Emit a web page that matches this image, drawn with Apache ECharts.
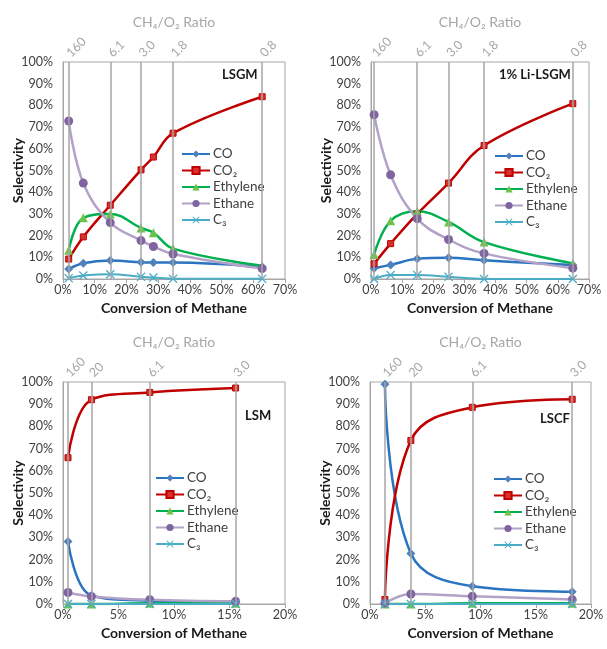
<!DOCTYPE html>
<html>
<head>
<meta charset="utf-8">
<script src="https://cdn.jsdelivr.net/npm/echarts@6/dist/echarts.min.js"></script>
<style>
  html, body { margin: 0; padding: 0; background: #fff; }
  #chart { width: 607px; height: 649px; }
</style>
</head>
<body>
<div id="chart"></div>
<script>
// ── Data (selectivity %, conversion %) ───────────────────────────────────────
const seriesNames = ['CO', 'CO₂', 'Ethylene', 'Ethane', 'C₃']

// LSGM
const lsgmX = [1.8, 6.4, 14.9, 24.6, 28.5, 34.7, 62.8]
const lsgmCO = [4.6, 7.3, 8.5, 7.7, 7.6, 7.6, 5.5]
const lsgmCO2 = [9.2, 19.4, 34.0, 50.3, 56.2, 67.2, 84.0]
const lsgmEthylene = [13.2, 28.2, 30.0, 23.5, 21.3, 14.0, 6.1]
const lsgmEthane = [72.8, 44.2, 26.0, 17.7, 15.0, 11.5, 4.8]
const lsgmC3 = [0.4, 1.6, 2.2, 1.0, 0.7, 0.1, 0.1]
const lsgmRatioX = [1.8, 14.9, 24.6, 34.7, 62.8]
const lsgmRatio = ['160', '6.1', '3.0', '1.8', '0.8']

// 1% Li-LSGM
const liX = [1.0, 6.3, 14.85, 24.9, 36.3, 64.8]
const liCO = [5.0, 6.5, 9.3, 9.8, 8.6, 6.5]
const liCO2 = [7.0, 16.3, 30.0, 44.2, 61.5, 80.8]
const liEthylene = [11.3, 26.8, 31.2, 26.3, 17.0, 7.2]
const liEthane = [75.7, 48.0, 27.8, 18.2, 11.8, 5.0]
const liC3 = [0.0, 1.8, 1.8, 1.0, 0.0, 0.0]
const liRatioX = [1.0, 14.85, 24.9, 36.3, 64.8]
const liRatio = ['160', '6.1', '3.0', '1.8', '0.8']

// LSM
const lsmX = [0.45, 2.56, 7.82, 15.55]
const lsmCO = [28.1, 3.8, 1.5, 1.0]
const lsmCO2 = [65.9, 92.0, 95.3, 97.3]
const lsmEthylene = [0.0, 0.0, 0.3, 0.3]
const lsmEthane = [5.2, 3.4, 1.9, 1.2]
const lsmC3 = [0.0, 0.0, 0.0, 0.0]
const lsmRatioX = [0.45, 2.56, 7.82, 15.55]
const lsmRatio = ['160', '20', '6.1', '3.0']

// LSCF
const lscfX = [1.35, 3.7, 9.26, 18.3]
const lscfCO = [99.0, 22.7, 8.0, 5.5]
const lscfCO2 = [2.0, 73.7, 88.6, 92.2]
const lscfEthylene = [0.0, 0.0, 0.3, 0.3]
const lscfEthane = [0.4, 4.5, 3.5, 2.0]
const lscfC3 = [0.0, 0.0, 0.0, 0.0]
const lscfRatioX = [1.35, 3.7, 9.26, 18.3]
const lscfRatio = ['160', '20', '6.1', '3.0']

// ── Layout / styles ──────────────────────────────────────────────────────────
const panels = [
  { label: 'LSGM', x: lsgmX, ys: [lsgmCO, lsgmCO2, lsgmEthylene, lsgmEthane, lsgmC3],
    ratioX: lsgmRatioX, ratio: lsgmRatio, xMax: 70, xInt: 10,
    grid: { left: 63, top: 62, width: 222, height: 217 },
    legend: { left: 181, top: 147 }, tag: { left: 222, top: 68 } },
  { label: '1% Li-LSGM', x: liX, ys: [liCO, liCO2, liEthylene, liEthane, liC3],
    ratioX: liRatioX, ratio: liRatio, xMax: 70, xInt: 10,
    grid: { left: 371, top: 62, width: 218, height: 217 },
    legend: { left: 494, top: 149 }, tag: { left: 499, top: 68 } },
  { label: 'LSM', x: lsmX, ys: [lsmCO, lsmCO2, lsmEthylene, lsmEthane, lsmC3],
    ratioX: lsmRatioX, ratio: lsmRatio, xMax: 20, xInt: 5,
    grid: { left: 63, top: 382, width: 222, height: 222 },
    legend: { left: 155, top: 471 }, tag: { left: 245, top: 409 } },
  { label: 'LSCF', x: lscfX, ys: [lscfCO, lscfCO2, lscfEthylene, lscfEthane, lscfC3],
    ratioX: lscfRatioX, ratio: lscfRatio, xMax: 20, xInt: 5,
    grid: { left: 370, top: 382, width: 221, height: 222 },
    legend: { left: 493, top: 472 }, tag: { left: 540, top: 412 } },
]

const xMark = 'path://M0,1L1,0L5,4L9,0L10,1L6,5L10,9L9,10L5,6L1,10L0,9L4,5Z'
const styles = [
  { line: '#2a74c0', fill: '#4f81bd', symbol: 'diamond', size: 9 },
  { line: '#c00000', fill: '#d8322c', symbol: 'rect', size: 6 },
  { line: '#00b050', fill: '#6cc24a', symbol: 'triangle', size: 9 },
  { line: '#b3a2c7', fill: '#8064a2', symbol: 'circle', size: 9 },
  { line: '#4bacc6', fill: '#4bacc6', symbol: xMark, size: 9 },
]

const gray = '#a6a6a6'
const textDark = '#404040'
const font = 'Lato, "Open Sans", sans-serif'

const grids = [], xAxes = [], yAxes = [], series = [], legends = [], titles = []

panels.forEach((p, i) => {
  grids.push({ ...p.grid, show: true, borderColor: gray, borderWidth: 1 })

  xAxes.push({
    type: 'value', gridIndex: i, position: 'bottom', min: 0, max: p.xMax, interval: p.xInt,
    axisLine: { show: true, lineStyle: { color: gray } },
    axisTick: { show: true, length: 4, lineStyle: { color: gray } },
    splitLine: { show: false },
    axisLabel: { formatter: '{value}%', color: textDark, fontSize: 12.5, margin: 4 },
    name: 'Conversion of Methane', nameLocation: 'middle', nameGap: 22, nameMoveOverlap: false,
    nameTextStyle: { fontWeight: 'bold', fontSize: 14, color: '#1a1a1a' },
  })
  // top axis only carries the "CH4/O2 Ratio" title
  xAxes.push({
    type: 'value', gridIndex: i, position: 'top', min: 0, max: p.xMax,
    axisLine: { show: false }, axisTick: { show: false }, splitLine: { show: false },
    axisLabel: { show: false },
    name: 'CH₄/O₂ Ratio', nameLocation: 'middle', nameGap: 33, nameMoveOverlap: false,
    nameTextStyle: { color: gray, fontSize: 14 },
  })
  yAxes.push({
    type: 'value', gridIndex: i, min: 0, max: 100, interval: 10,
    axisLine: { show: true, lineStyle: { color: gray } },
    axisTick: { show: false }, splitLine: { show: false },
    axisLabel: { formatter: '{value}%', color: textDark, fontSize: 12.5, margin: 10 },
    name: 'Selectivity', nameLocation: 'middle', nameGap: 38, nameMoveOverlap: false,
    nameTextStyle: { fontWeight: 'bold', fontSize: 14, color: '#1a1a1a' },
  })

  // vertical ratio guide lines
  series.push({
    type: 'line', xAxisIndex: 2 * i, yAxisIndex: i, z: 1, silent: true,
    data: p.x.map((x, k) => [x, p.ys[4][k]]),
    showSymbol: false, lineStyle: { opacity: 0 },
    markLine: {
      silent: true, symbol: ['none', 'none'], label: { show: false },
      lineStyle: { color: gray, width: 1.5, type: 'solid' },
      data: p.ratioX.map(v => ({ xAxis: v })),
    },
  })

  p.ys.forEach((ys, s) => {
    const st = styles[s]
    series.push({
      type: 'line', name: seriesNames[s], xAxisIndex: 2 * i, yAxisIndex: i, z: 3,
      smooth: 0.4,
      data: p.x.map((x, k) => [x, ys[k]]),
      symbol: st.symbol, symbolSize: st.size,
      itemStyle: { color: st.fill, borderColor: st.line, borderWidth: s === 1 ? 1 : 0 },
      lineStyle: { color: st.line, width: s === 4 ? 2 : 2.5 },
    })
  })

  legends.push({
    data: seriesNames, orient: 'vertical', ...p.legend,
    itemWidth: 28, itemHeight: 9, itemGap: 2.5, padding: 0,
    textStyle: { fontSize: 13.5, color: textDark, padding: [0, 0, 0, -2] },
    selectedMode: false,
  })

  titles.push({
    text: p.label, ...p.tag, padding: 0,
    textStyle: { fontSize: 13, fontWeight: 'bold', color: '#1a1a1a' },
  })
})

const chart = echarts.init(document.getElementById('chart'))
chart.setOption({
  animation: false,
  textStyle: { fontFamily: font },
  title: titles,
  legend: legends,
  grid: grids,
  xAxis: xAxes,
  yAxis: yAxes,
  series,
})

// rotated CH4/O2 ratio labels above each guide line, placed through the x scale
const ratioLabels = []
panels.forEach((p, i) => {
  p.ratioX.forEach((v, k) => {
    const px = chart.convertToPixel({ xAxisIndex: 2 * i }, v)
    ratioLabels.push({
      type: 'text', x: px, y: p.grid.top - 7, rotation: Math.PI / 4, silent: true,
      style: {
        text: p.ratio[k], fill: gray, font: '12.5px ' + font,
        align: 'left', verticalAlign: 'middle',
      },
    })
  })
})
chart.setOption({ graphic: ratioLabels })
</script>
</body>
</html>
